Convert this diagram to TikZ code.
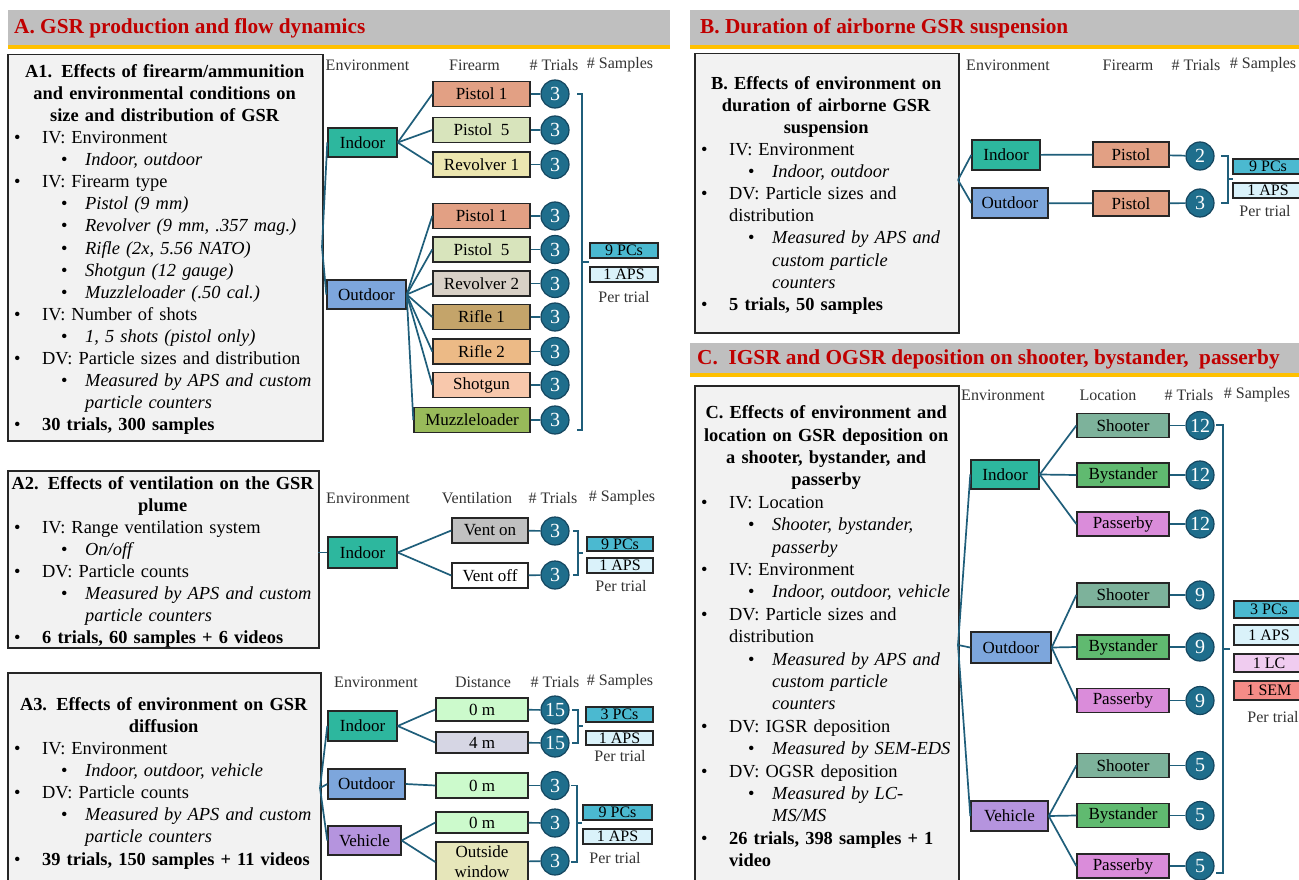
\documentclass[tikz,border=0pt]{standalone}
\usepackage{fontspec}
\setmainfont{Liberation Serif}
\usetikzlibrary{calc}

\definecolor{barc}{RGB}{191,191,191}
\definecolor{goldc}{RGB}{255,192,0}
\definecolor{titlec}{RGB}{192,0,0}
\definecolor{boxc}{RGB}{242,242,242}
\definecolor{linkc}{RGB}{31,94,122}
\definecolor{trialc}{RGB}{31,110,140}
\definecolor{trialedge}{RGB}{20,70,95}
\definecolor{indoorc}{RGB}{45,183,158}
\definecolor{outdoorc}{RGB}{125,166,220}
\definecolor{vehiclec}{RGB}{181,148,222}
\definecolor{pistolc}{RGB}{226,160,132}
\definecolor{pistolfc}{RGB}{216,228,188}
\definecolor{revonec}{RGB}{236,230,176}
\definecolor{revtwoc}{RGB}{216,208,198}
\definecolor{rifleonec}{RGB}{196,164,106}
\definecolor{rifletwoc}{RGB}{236,186,134}
\definecolor{shotgunc}{RGB}{248,200,172}
\definecolor{muzzlec}{RGB}{152,186,90}
\definecolor{ventonc}{RGB}{192,192,192}
\definecolor{zeroc}{RGB}{204,250,204}
\definecolor{fourc}{RGB}{214,214,228}
\definecolor{windowc}{RGB}{230,230,186}
\definecolor{pcsc}{RGB}{75,185,208}
\definecolor{apsc}{RGB}{218,242,250}
\definecolor{lcc}{RGB}{240,204,240}
\definecolor{semc}{RGB}{245,140,135}
\definecolor{shooterc}{RGB}{125,178,155}
\definecolor{bystanderc}{RGB}{96,186,112}
\definecolor{passerbyc}{RGB}{218,140,218}

\setlength{\parindent}{0pt}
\newcommand{\bodysize}{\fontsize{18.4}{22.1}\selectfont}
% box text lines
\newcommand{\ttl}[1]{\par\noindent\makebox[\linewidth][c]{\bfseries #1}}
\newcommand{\lvA}[1]{\par\noindent\makebox[30pt][l]{\hspace{2pt}\textbullet}\mbox{#1}}
\newcommand{\lvAc}[1]{\par\noindent\hspace*{30pt}\mbox{#1}}
\newcommand{\lvB}[1]{\par\noindent\hspace*{49pt}\makebox[24pt][l]{\textbullet}\mbox{\itshape #1}}
\newcommand{\lvBc}[1]{\par\noindent\hspace*{73pt}\mbox{\itshape #1}}

\begin{document}
\begin{tikzpicture}[x=1pt, y=-1pt, font=\fontsize{16}{18}\selectfont,
    infobox/.style={draw=black!85, line width=1.5pt, fill=boxc, anchor=north west, inner sep=0pt},
    infotext/.style={anchor=north west, inner sep=0pt, font=\bodysize},
    envbox/.style={draw=black!85, line width=1.4pt, minimum height=29pt, inner sep=0pt, font=\fontsize{17}{19}\selectfont},
    itembox/.style={draw=black!85, line width=1.4pt, minimum height=25pt, minimum width=97pt, inner sep=0pt, font=\fontsize{17}{19}\selectfont},
    trial/.style={circle, draw=trialedge, line width=1.2pt, fill=trialc, text=white, minimum size=28pt, inner sep=0pt, font=\fontsize{20}{20}\selectfont},
    sampbox/.style={draw=black!85, line width=1.3pt, minimum width=68pt, minimum height=15pt, inner sep=0pt, font=\fontsize{16}{16}\selectfont},
    colhead/.style={inner sep=0pt, text=black!80, font=\fontsize{16}{18}\selectfont},
    sectitle/.style={anchor=west, inner sep=0pt, text=titlec, font=\fontsize{21.3}{24}\selectfont\bfseries},
    link/.style={draw=linkc, line width=1.7pt},
    brace/.style={draw=linkc, line width=1.3pt}]
    \useasboundingbox[fill=white] (0,0) rectangle (1299,880);

    % Draw section bars
    \fill[barc] (8,10) rectangle (670,45);
    \fill[goldc] (8,45) rectangle (670,49);
    \node[sectitle] (atitle) at (14,28) {A. GSR production and flow dynamics};
    \fill[barc] (690,10) rectangle (1299,45);
    \fill[goldc] (690,45) rectangle (1299,49);
    \node[sectitle] (btitle) at (700,28) {B. Duration of airborne GSR suspension};
    \fill[barc] (690,343) rectangle (1299,373);
    \fill[goldc] (690,373) rectangle (1299,377);
    \node[sectitle] (ctitle) at (697,359) {C.\ \ IGSR and OGSR deposition on shooter, bystander,\ \ passerby};

    % A1: firearm and environment
    \node[infobox, minimum width=315pt, minimum height=386pt] (a1box) at (7,54) {};
    \node[infotext, text width=305pt] (a1text) at (12,55) {%
      \ttl{A1. Effects of firearm/ammunition}
      \ttl{and environmental conditions on}
      \ttl{size and distribution of GSR}
      \lvA{IV: Environment}
      \lvB{Indoor, outdoor}
      \lvA{IV: Firearm type}
      \lvB{Pistol (9 mm)}
      \lvB{Revolver (9 mm, .357 mag.)}
      \lvB{Rifle (2x, 5.56 NATO)}
      \lvB{Shotgun (12 gauge)}
      \lvB{Muzzleloader (.50 cal.)}
      \lvA{IV: Number of shots}
      \lvB{1, 5 shots (pistol only)}
      \lvA{DV: Particle sizes and distribution}
      \lvB{Measured by APS and custom}
      \lvBc{particle counters}
      \lvA{\bfseries 30 trials, 300 samples}};
    \node[colhead] (a1henv) at (367.5,65) {Environment};
    \node[colhead] (a1hfire) at (474.5,65) {Firearm};
    \node[colhead] (a1htri) at (554,65) {\# Trials};
    \node[colhead] (a1hsam) at (620,65) {\# Samples};
    \coordinate (a1root) at (322,247);
    \node[envbox, fill=indoorc, minimum width=69pt] (a1in) at (362.5,142.5) {Indoor};
    \node[envbox, fill=outdoorc, minimum width=79pt] (a1out) at (366.5,294.5) {Outdoor};
    \node[itembox, fill=pistolc] (a1f1) at (481.5,94) {Pistol 1};
    \node[itembox, fill=pistolfc] (a1f2) at (481.5,130) {Pistol\ \ 5};
    \node[itembox, fill=revonec] (a1f3) at (481.5,164.5) {Revolver 1};
    \node[itembox, fill=pistolc] (a1f4) at (481.5,216) {Pistol 1};
    \node[itembox, fill=pistolfc] (a1f5) at (481.5,249.5) {Pistol\ \ 5};
    \node[itembox, fill=revtwoc] (a1f6) at (481.5,283.5) {Revolver 2};
    \node[itembox, fill=rifleonec] (a1f7) at (481.5,317) {Rifle 1};
    \node[itembox, fill=rifletwoc] (a1f8) at (481.5,351.5) {Rifle 2};
    \node[itembox, fill=shotgunc] (a1f9) at (481.5,385) {Shotgun};
    \node[itembox, fill=muzzlec, minimum width=116pt] (a1f10) at (472,420) {Muzzleloader};
    \node[trial] (a1t1) at (555,94) {3};
    \node[trial] (a1t2) at (555,130) {3};
    \node[trial] (a1t3) at (555,164.5) {3};
    \node[trial] (a1t4) at (555,216) {3};
    \node[trial] (a1t5) at (555,249.5) {3};
    \node[trial] (a1t6) at (555,283.5) {3};
    \node[trial] (a1t7) at (555,317) {3};
    \node[trial] (a1t8) at (555,351.5) {3};
    \node[trial] (a1t9) at (555,385) {3};
    \node[trial] (a1t10) at (555,420) {3};
    \draw[link] (a1root) -- (a1in.west);
    \draw[link] (a1root) -- (a1out.west);
    \draw[link] (a1in.east) -- (a1f1.west);
    \draw[link] (a1in.east) -- (a1f2.west);
    \draw[link] (a1in.east) -- (a1f3.west);
    \draw[link] (a1out.east) -- (a1f4.west);
    \draw[link] (a1out.east) -- (a1f5.west);
    \draw[link] (a1out.east) -- (a1f6.west);
    \draw[link] (a1out.east) -- (a1f7.west);
    \draw[link] (a1out.east) -- (a1f8.west);
    \draw[link] (a1out.east) -- (a1f9.west);
    \draw[link] (a1out.east) -- (a1f10.west);
    \draw[link] (a1f1) -- (a1t1); \draw[link] (a1f2) -- (a1t2);
    \draw[link] (a1f3) -- (a1t3); \draw[link] (a1f4) -- (a1t4);
    \draw[link] (a1f5) -- (a1t5); \draw[link] (a1f6) -- (a1t6);
    \draw[link] (a1f7) -- (a1t7); \draw[link] (a1f8) -- (a1t8);
    \draw[link] (a1f9) -- (a1t9); \draw[link] (a1f10) -- (a1t10);
    \draw[brace] (577,94) -- (582,94) -- (582,430) -- (577,430);
    \draw[brace] (582,262) -- (589,262);
    \node[sampbox, fill=pcsc] (a1pcs) at (624,250.5) {9 PCs};
    \node[sampbox, fill=apsc] (a1aps) at (624,274.5) {1 APS};
    \node[colhead] (a1per) at (624,297) {Per trial};

    % A2: ventilation
    \node[infobox, minimum width=311pt, minimum height=177pt] (a2box) at (7,470) {};
    \node[infotext, text width=301pt, font=\fontsize{18.4}{22}\selectfont] (a2text) at (12,467) {%
      \ttl{A2. Effects of ventilation on the GSR}
      \ttl{plume}
      \lvA{IV: Range ventilation system}
      \lvB{On/off}
      \lvA{DV: Particle counts}
      \lvB{Measured by APS and custom}
      \lvBc{particle counters}
      \lvA{\bfseries 6 trials, 60 samples + 6 videos}};
    \node[colhead] (a2henv) at (368,498) {Environment};
    \node[colhead] (a2hvent) at (477,498) {Ventilation};
    \node[colhead] (a2htri) at (553,498) {\# Trials};
    \node[colhead] (a2hsam) at (622,498) {\# Samples};
    \coordinate (a2root) at (318,552.5);
    \node[envbox, fill=indoorc, minimum width=69pt, minimum height=31pt] (a2in) at (362.5,552.5) {Indoor};
    \node[itembox, fill=ventonc, minimum width=76pt] (a2v1) at (490,530.5) {Vent on};
    \node[itembox, fill=white, minimum width=76pt] (a2v2) at (490,575.5) {Vent off};
    \node[trial] (a2t1) at (555,531) {3};
    \node[trial] (a2t2) at (555,575) {3};
    \draw[link] (a2root) -- (a2in.west);
    \draw[link] (a2in.east) -- (a2v1.west);
    \draw[link] (a2in.east) -- (a2v2.west);
    \draw[link] (a2v1) -- (a2t1); \draw[link] (a2v2) -- (a2t2);
    \draw[brace] (573,531) -- (578,531) -- (578,575) -- (573,575);
    \draw[brace] (578,553) -- (583,553);
    \node[sampbox, fill=pcsc, minimum width=66pt, minimum height=14pt] (a2pcs) at (620,544) {9 PCs};
    \node[sampbox, fill=apsc, minimum width=66pt] (a2aps) at (620,565.5) {1 APS};
    \node[colhead] (a2per) at (621,586) {Per trial};

    % A3: diffusion
    \node[infobox, minimum width=313pt, minimum height=230pt] (a3box) at (7,672) {};
    \node[infotext, text width=303pt] (a3text) at (12,688) {%
      \ttl{A3. Effects of environment on GSR}
      \ttl{diffusion}
      \lvA{IV: Environment}
      \lvB{Indoor, outdoor, vehicle}
      \lvA{DV: Particle counts}
      \lvB{Measured by APS and custom}
      \lvBc{particle counters}
      \lvA{\bfseries 39 trials, 150 samples + 11 videos}};
    \node[colhead] (a3henv) at (376,682) {Environment};
    \node[colhead] (a3hdist) at (483,682) {Distance};
    \node[colhead] (a3htri) at (555,682) {\# Trials};
    \node[colhead] (a3hsam) at (620,682) {\# Samples};
    \coordinate (a3root) at (320,788);
    \node[envbox, fill=indoorc, minimum width=69pt, minimum height=30pt] (a3in) at (362.5,726) {Indoor};
    \node[envbox, fill=outdoorc, minimum width=77pt, minimum height=30pt] (a3out) at (366.5,784) {Outdoor};
    \node[envbox, fill=vehiclec, minimum width=73pt] (a3veh) at (364.5,840.5) {Vehicle};
    \node[itembox, fill=zeroc, minimum width=92pt, minimum height=23pt] (a3d1) at (482,709.5) {0 m};
    \node[itembox, fill=fourc, minimum width=92pt, minimum height=21pt] (a3d2) at (482,742.5) {4 m};
    \node[itembox, fill=zeroc, minimum width=92pt, minimum height=25pt] (a3d3) at (482,785.5) {0 m};
    \node[itembox, fill=zeroc, minimum width=92pt, minimum height=21pt] (a3d4) at (482,822.5) {0 m};
    \node[itembox, fill=windowc, minimum width=92pt, minimum height=40pt, align=center, font=\fontsize{17}{20}\selectfont] (a3d5) at (482,862) {Outside\\window};
    \node[trial] (a3t1) at (555,710) {15};
    \node[trial] (a3t2) at (555,743) {15};
    \node[trial] (a3t3) at (555,785.5) {3};
    \node[trial] (a3t4) at (555,823) {3};
    \node[trial] (a3t5) at (555,861) {3};
    \draw[link] (a3root) -- (a3in.west);
    \draw[link] (a3root) -- (a3out.west);
    \draw[link] (a3root) -- (a3veh.west);
    \draw[link] (a3in.east) -- (a3d1.west);
    \draw[link] (a3in.east) -- (a3d2.west);
    \draw[link] (a3out.east) -- (a3d3.west);
    \draw[link] (a3veh.east) -- (a3d4.west);
    \draw[link] (a3veh.east) -- (a3d5.west);
    \draw[link] (a3d1) -- (a3t1); \draw[link] (a3d2) -- (a3t2);
    \draw[link] (a3d3) -- (a3t3); \draw[link] (a3d4) -- (a3t4);
    \draw[link] (a3d5) -- (a3t5);
    \draw[brace] (572,710) -- (578,710) -- (578,743) -- (572,743);
    \draw[brace] (578,726) -- (583,726);
    \node[sampbox, fill=pcsc, minimum width=67pt] (a3pcs) at (619.5,714.5) {3 PCs};
    \node[sampbox, fill=apsc, minimum width=67pt, minimum height=14pt] (a3aps) at (619.5,738) {1 APS};
    \node[colhead] (a3per) at (620,756) {Per trial};
    \draw[brace] (571,785.5) -- (577,785.5) -- (577,862) -- (571,862);
    \draw[brace] (577,823) -- (582,823);
    \node[sampbox, fill=pcsc, minimum width=69pt] (a3pcsb) at (617.5,812.5) {9 PCs};
    \node[sampbox, fill=apsc, minimum width=69pt] (a3apsb) at (617.5,836.5) {1 APS};
    \node[colhead] (a3perb) at (615,858) {Per trial};

    % B: airborne suspension
    \node[infobox, minimum width=264pt, minimum height=279pt] (bbox) at (694,53) {};
    \node[infotext, text width=254pt] (btext) at (699,67) {%
      \ttl{B. Effects of environment on}
      \ttl{duration of airborne GSR}
      \ttl{suspension}
      \lvA{IV: Environment}
      \lvB{Indoor, outdoor}
      \lvA{DV: Particle sizes and}
      \lvAc{distribution}
      \lvB{Measured by APS and}
      \lvBc{custom particle}
      \lvBc{counters}
      \lvA{\bfseries 5 trials, 50 samples}};
    \node[colhead] (bhenv) at (1008,65) {Environment};
    \node[colhead] (bhfire) at (1128,65) {Firearm};
    \node[colhead] (bhtri) at (1196,65) {\# Trials};
    \node[colhead] (bhsam) at (1263,65) {\# Samples};
    \coordinate (broot) at (958,180);
    \node[envbox, fill=indoorc, minimum width=68pt, minimum height=30pt] (bin) at (1006,155) {Indoor};
    \node[envbox, fill=outdoorc, minimum width=76pt, minimum height=30pt] (bout) at (1010,203) {Outdoor};
    \node[itembox, fill=pistolc, minimum width=76pt] (bf1) at (1131,154.5) {Pistol};
    \node[itembox, fill=pistolc, minimum width=76pt] (bf2) at (1131,203.5) {Pistol};
    \node[trial] (bt1) at (1200,156) {2};
    \node[trial] (bt2) at (1200,203) {3};
    \draw[link] (broot) -- (bin.west);
    \draw[link] (broot) -- (bout.west);
    \draw[link] (bin) -- (bf1); \draw[link] (bout) -- (bf2);
    \draw[link] (bf1) -- (bt1); \draw[link] (bf2) -- (bt2);
    \draw[brace] (1221,156) -- (1228,156) -- (1228,203) -- (1221,203);
    \draw[brace] (1228,179) -- (1233,179);
    \node[sampbox, fill=pcsc, minimum width=70pt] (bpcs) at (1268,166.5) {9 PCs};
    \node[sampbox, fill=apsc, minimum width=70pt] (baps) at (1268,190.5) {1 APS};
    \node[colhead] (bper) at (1265,211) {Per trial};

    % C: deposition on shooter, bystander, passerby
    \node[infobox, minimum width=264pt, minimum height=510pt] (cbox) at (694,385) {};
    \node[infotext, text width=254pt, font=\fontsize{18.4}{22.4}\selectfont] (ctext) at (699,396) {%
      \ttl{C. Effects of environment and}
      \ttl{location on GSR deposition on}
      \ttl{a shooter, bystander, and}
      \ttl{passerby}
      \lvA{IV: Location}
      \lvB{Shooter, bystander,}
      \lvBc{passerby}
      \lvA{IV: Environment}
      \lvB{Indoor, outdoor, vehicle}
      \lvA{DV: Particle sizes and}
      \lvAc{distribution}
      \lvB{Measured by APS and}
      \lvBc{custom particle}
      \lvBc{counters}
      \lvA{DV: IGSR deposition}
      \lvB{Measured by SEM-EDS}
      \lvA{DV: OGSR deposition}
      \lvB{Measured by LC-}
      \lvBc{MS/MS}
      \lvA{\bfseries 26 trials, 398 samples + 1}
      \lvAc{\bfseries video}};
    \node[colhead] (chenv) at (1003,395) {Environment};
    \node[colhead] (chloc) at (1108,395) {Location};
    \node[colhead] (chtri) at (1189,395) {\# Trials};
    \node[colhead] (chsam) at (1257,395) {\# Samples};
    \coordinate (croot) at (958,645);
    \node[envbox, fill=indoorc, minimum width=68pt] (cin) at (1005,474.5) {Indoor};
    \node[envbox, fill=outdoorc, minimum width=80pt, minimum height=31pt] (cout) at (1011,647.5) {Outdoor};
    \node[envbox, fill=vehiclec, minimum width=77pt, minimum height=30pt] (cveh) at (1009.5,816) {Vehicle};
    \node[itembox, fill=shooterc, minimum width=92pt, minimum height=24pt] (cl1) at (1123,425.5) {Shooter};
    \node[itembox, fill=bystanderc, minimum width=92pt, minimum height=24pt] (cl2) at (1123,475) {Bystander};
    \node[itembox, fill=passerbyc, minimum width=92pt, minimum height=24pt] (cl3) at (1123,524) {Passerby};
    \node[itembox, fill=shooterc, minimum width=92pt, minimum height=24pt] (cl4) at (1123,595) {Shooter};
    \node[itembox, fill=bystanderc, minimum width=92pt, minimum height=24pt] (cl5) at (1123,647) {Bystander};
    \node[itembox, fill=passerbyc, minimum width=92pt, minimum height=24pt] (cl6) at (1123,700.5) {Passerby};
    \node[itembox, fill=shooterc, minimum width=92pt, minimum height=24pt] (cl7) at (1123,765.5) {Shooter};
    \node[itembox, fill=bystanderc, minimum width=92pt, minimum height=24pt] (cl8) at (1123,815.5) {Bystander};
    \node[itembox, fill=passerbyc, minimum width=92pt, minimum height=24pt] (cl9) at (1123,866) {Passerby};
    \node[trial] (ct1) at (1200,425.5) {12};
    \node[trial] (ct2) at (1200,475) {12};
    \node[trial] (ct3) at (1200,524) {12};
    \node[trial] (ct4) at (1200,595) {9};
    \node[trial] (ct5) at (1200,647) {9};
    \node[trial] (ct6) at (1200,700.5) {9};
    \node[trial] (ct7) at (1200,765.5) {5};
    \node[trial] (ct8) at (1200,815.5) {5};
    \node[trial] (ct9) at (1200,866) {5};
    \draw[link] (croot) -- (cin.west);
    \draw[link] (croot) -- (cout.west);
    \draw[link] (croot) -- (cveh.west);
    \draw[link] (cin.east) -- (cl1.west);
    \draw[link] (cin.east) -- (cl2.west);
    \draw[link] (cin.east) -- (cl3.west);
    \draw[link] (cout.east) -- (cl4.west);
    \draw[link] (cout.east) -- (cl5.west);
    \draw[link] (cout.east) -- (cl6.west);
    \draw[link] (cveh.east) -- (cl7.west);
    \draw[link] (cveh.east) -- (cl8.west);
    \draw[link] (cveh.east) -- (cl9.west);
    \draw[link] (cl1) -- (ct1); \draw[link] (cl2) -- (ct2);
    \draw[link] (cl3) -- (ct3); \draw[link] (cl4) -- (ct4);
    \draw[link] (cl5) -- (ct5); \draw[link] (cl6) -- (ct6);
    \draw[link] (cl7) -- (ct7); \draw[link] (cl8) -- (ct8);
    \draw[link] (cl9) -- (ct9);
    \draw[brace] (1216,425) -- (1223,425) -- (1223,873) -- (1216,873);
    \draw[brace] (1223,649) -- (1230,649);
    \node[sampbox, fill=pcsc, minimum width=70pt, minimum height=17pt] (cpcs) at (1269,609.5) {3 PCs};
    \node[sampbox, fill=apsc, minimum width=70pt, minimum height=20pt] (caps) at (1269,635) {1 APS};
    \node[sampbox, fill=lcc, minimum width=70pt, minimum height=18pt] (clc) at (1269,663) {1 LC};
    \node[sampbox, fill=semc, minimum width=70pt, minimum height=19pt] (csem) at (1269,690.5) {1 SEM};
    \node[colhead] (cper) at (1273,717) {Per trial};
\end{tikzpicture}
\end{document}
